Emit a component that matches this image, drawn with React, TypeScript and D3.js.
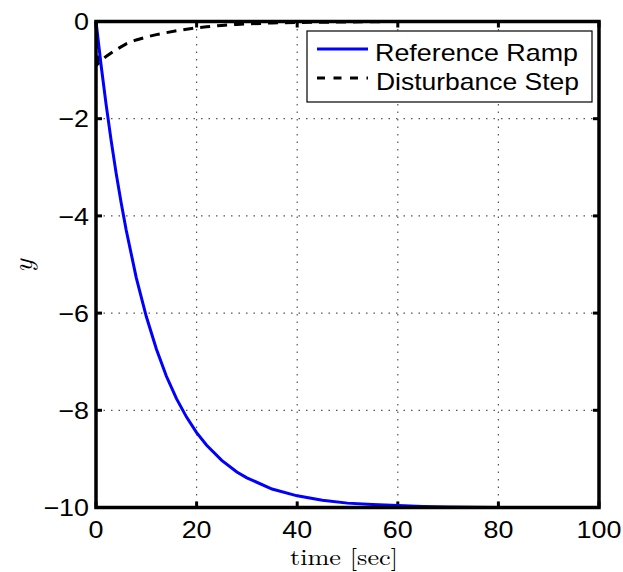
import React from "react";
import * as d3 from "d3";

const xTicks = [0, 20, 40, 60, 80, 100];
const yTicks = [-10, -8, -6, -4, -2, 0];

const rampT = [0, 1, 2, 3, 4, 5, 6, 8, 10, 12, 14, 16, 18, 20, 22, 25, 28, 30, 35, 40, 45, 50, 55, 60, 65, 70, 80, 90, 100];
const rampY = [0, -0.89, -1.7, -2.44, -3.12, -3.73, -4.29, -5.27, -6.07, -6.74, -7.3, -7.76, -8.14, -8.46, -8.72, -9.03, -9.27, -9.39, -9.62, -9.76, -9.85, -9.91, -9.94, -9.96, -9.98, -9.99, -10, -10, -10];

const distT = [0, 0.4, 2, 4, 6, 8, 10, 12, 14, 16, 18, 20, 22, 25, 28, 30, 35, 40, 50, 60, 80, 100];
const distY = [0, -0.87, -0.72, -0.58, -0.46, -0.38, -0.32, -0.27, -0.23, -0.19, -0.16, -0.13, -0.11, -0.08, -0.06, -0.05, -0.03, -0.02, -0.01, 0, 0, 0];

const seriesNames = ["Reference Ramp", "Disturbance Step"];

const W = 623, H = 572;
const L = 96, R = 599, T = 21.5, B = 507.5;
const SX = 1.12;

export default function App() {
  const x = d3.scaleLinear().domain([0, 100]).range([L, R]);
  const y = d3.scaleLinear().domain([-10, 0]).range([B, T]);
  const line = d3.line<[number, number]>().x(d => x(d[0])).y(d => y(d[1]));
  const ramp = line(rampT.map((t, i) => [t, rampY[i]]) as [number, number][]) || "";
  const dist = line(distT.map((t, i) => [t, distY[i]]) as [number, number][]) || "";
  const sans = "'Liberation Sans', Arial, Helvetica, sans-serif";
  const serif = "'Latin Modern Roman', 'DejaVu Serif', 'Liberation Serif', serif";
  const fmt = (v: number) => (v < 0 ? "\u2212" + Math.abs(v) : String(v));

  return (
    <svg width={W} height={H} style={{ position: "absolute", left: 0, top: 0, background: "#fff" }}>
      <rect x={0} y={0} width={W} height={H} fill="#fff" />
      {xTicks.slice(1, -1).map(t => (
        <line key={"gx" + t} x1={x(t)} x2={x(t)} y1={T} y2={B} stroke="#555" strokeWidth={1.2} strokeDasharray="1.5,6" />
      ))}
      {yTicks.slice(1, -1).map(t => (
        <line key={"gy" + t} x1={L} x2={R} y1={y(t)} y2={y(t)} stroke="#555" strokeWidth={1.2} strokeDasharray="1.5,6" />
      ))}
      {xTicks.map(t => (
        <g key={"tx" + t}>
          <line x1={x(t)} x2={x(t)} y1={B} y2={B - 6} stroke="#000" strokeWidth={3} />
          <line x1={x(t)} x2={x(t)} y1={T} y2={T + 6} stroke="#000" strokeWidth={3} />
        </g>
      ))}
      {yTicks.map(t => (
        <g key={"ty" + t}>
          <line x1={L} x2={L + 6} y1={y(t)} y2={y(t)} stroke="#000" strokeWidth={3} />
          <line x1={R} x2={R - 6} y1={y(t)} y2={y(t)} stroke="#000" strokeWidth={3} />
        </g>
      ))}
      <path d={dist} fill="none" stroke="#000" strokeWidth={3} strokeDasharray="10,7" />
      <path d={ramp} fill="none" stroke="#0000ff" strokeWidth={3} />
      <rect x={L} y={T} width={R - L} height={B - T} fill="none" stroke="#000" strokeWidth={3.5} />
      {xTicks.map(t => (
        <text key={"lx" + t} transform={`translate(${x(t)},537.5) scale(${SX},1)`} textAnchor="middle" fontFamily={sans} fontSize={24} fill="#000">
          {fmt(t)}
        </text>
      ))}
      {yTicks.map(t => (
        <text key={"ly" + t} transform={`translate(89,${y(t) + 8.7}) scale(${SX},1)`} textAnchor="end" fontFamily={sans} fontSize={24} fill="#000">
          {fmt(t)}
        </text>
      ))}
      <text x={344} y={565} textAnchor="middle" fontFamily={serif} fontSize={23} textLength={108} lengthAdjust="spacingAndGlyphs" fill="#000">
        time [sec]
      </text>
      <text transform="translate(32,266) rotate(-90)" textAnchor="middle" fontFamily={serif} fontStyle="italic" fontSize={28} fill="#000">
        y
      </text>
      <rect x={307} y={31} width={285} height={71} fill="#fff" stroke="#000" strokeWidth={1.2} />
      <line x1={317} x2={368} y1={49} y2={49} stroke="#0000ff" strokeWidth={3} />
      <line x1={317} x2={368} y1={78} y2={78} stroke="#000" strokeWidth={3} strokeDasharray="8,8.5" />
      <text x={375} y={60.5} fontFamily={sans} fontSize={24} textLength={203} lengthAdjust="spacingAndGlyphs" fill="#000">
        {seriesNames[0]}
      </text>
      <text x={376} y={89.5} fontFamily={sans} fontSize={24} textLength={203} lengthAdjust="spacingAndGlyphs" fill="#000">
        {seriesNames[1]}
      </text>
    </svg>
  );
}
